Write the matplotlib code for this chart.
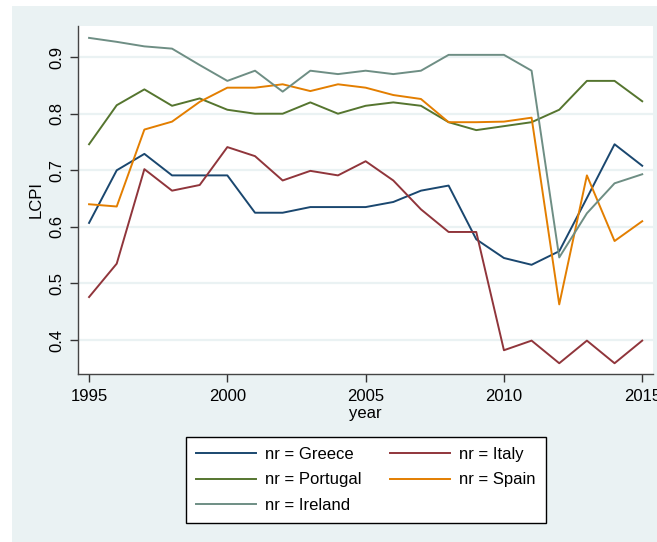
#!/usr/bin/env python3
"""LCPI by country, 1995-2015 (Stata s2color look)."""

import matplotlib

matplotlib.use("Agg")
import matplotlib.pyplot as plt
from matplotlib.patches import Rectangle

plt.rcParams["font.family"] = ["Liberation Sans", "DejaVu Sans"]

years = list(range(1995, 2016))

greece = [0.607, 0.700, 0.729, 0.691, 0.691, 0.691, 0.625, 0.625, 0.635, 0.635, 0.635,
          0.644, 0.664, 0.673, 0.578, 0.545, 0.533, 0.557, 0.651, 0.746, 0.708]
italy = [0.476, 0.535, 0.702, 0.664, 0.674, 0.741, 0.725, 0.682, 0.699, 0.691, 0.716,
         0.682, 0.631, 0.591, 0.591, 0.382, 0.399, 0.359, 0.399, 0.359, 0.399]
portugal = [0.746, 0.815, 0.843, 0.814, 0.827, 0.807, 0.800, 0.800, 0.820, 0.800, 0.814,
            0.820, 0.814, 0.785, 0.771, 0.778, 0.785, 0.807, 0.858, 0.858, 0.822]
spain = [0.640, 0.636, 0.772, 0.786, 0.821, 0.846, 0.846, 0.852, 0.840, 0.852, 0.846,
         0.833, 0.826, 0.785, 0.785, 0.786, 0.793, 0.463, 0.691, 0.575, 0.610]
ireland = [0.934, 0.927, 0.919, 0.915, 0.886, 0.858, 0.876, 0.839, 0.876, 0.870, 0.876,
           0.870, 0.876, 0.904, 0.904, 0.904, 0.876, 0.546, 0.624, 0.677, 0.693]

series = [
    ("nr = Greece", greece, "#1a476f"),
    ("nr = Italy", italy, "#90353b"),
    ("nr = Portugal", portugal, "#55752f"),
    ("nr = Spain", spain, "#e37e00"),
    ("nr = Ireland", ireland, "#6e8e84"),
]

x_ticks = [1995, 2000, 2005, 2010, 2015]
y_ticks = [0.4, 0.5, 0.6, 0.7, 0.8, 0.9]

W, H = 657, 542
BG = "#eaf2f3"

fig = plt.figure(figsize=(W / 100, H / 100), dpi=100, facecolor="white")
fig.patches.append(Rectangle((12 / W, 0), 1 - 12 / W, 1 - 6 / H, transform=fig.transFigure,
                             facecolor=BG, edgecolor="none", zorder=-10))

ax = fig.add_axes([78 / W, 1 - 374 / H, (653 - 78) / W, (374 - 26) / H])
ax.set_facecolor("white")

handles = {}
for label, vals, color in series:
    (ln,) = ax.plot(years, vals, color=color, linewidth=1.4, label=label, zorder=3)
    handles[label] = ln

ax.set_xlim(1994.6, 2015.39)
ax.set_ylim(0.34, 0.955)
ax.set_xticks(x_ticks)
ax.set_yticks(y_ticks)
ax.set_yticklabels([f"{t:.1f}" for t in y_ticks], rotation=90, va="center")
ax.tick_params(axis="both", labelsize=12, length=6, width=1, color="#333333", labelcolor="black")
ax.tick_params(axis="x", pad=5)
ax.tick_params(axis="y", pad=4)

ax.grid(axis="y", color=BG, linewidth=1.6, zorder=1)
ax.set_axisbelow(True)
for side in ("top", "right"):
    ax.spines[side].set_visible(False)
for side in ("left", "bottom"):
    ax.spines[side].set_color("#444444")
    ax.spines[side].set_linewidth(1)

ax.set_xlabel("year", fontsize=12, labelpad=1)
ax.set_ylabel("LCPI", fontsize=12, labelpad=4)

order = ["nr = Greece", "nr = Portugal", "nr = Ireland", "nr = Italy", "nr = Spain"]
leg = fig.legend([handles[k] for k in order], order, loc="upper left",
                 bbox_to_anchor=(186 / W, 1 - 437 / H), bbox_transform=fig.transFigure,
                 ncol=2, fontsize=12, frameon=True, fancybox=False, framealpha=1,
                 edgecolor="black", borderaxespad=0, handlelength=3.6, handletextpad=0.55,
                 columnspacing=1.7, labelspacing=0.62, borderpad=0.6)
leg.get_frame().set_linewidth(1)

fig.savefig("out.png", dpi=100, facecolor=fig.get_facecolor())
